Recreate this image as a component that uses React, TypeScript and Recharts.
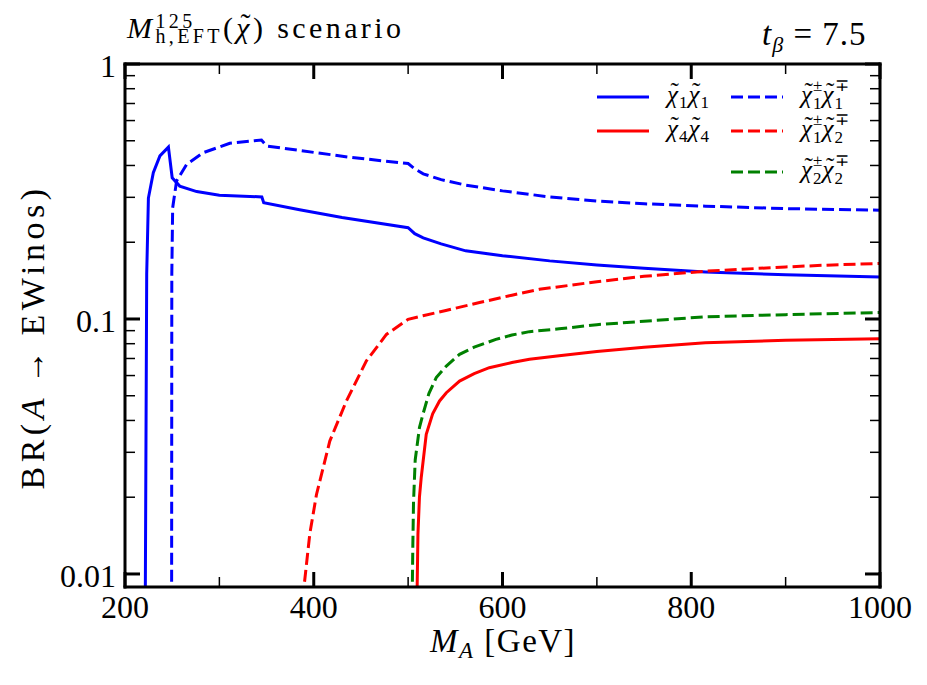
import React from "react";
import { LineChart, Line, XAxis, YAxis } from "recharts";

type Pt = { m: number; br: number };

const FONT = "Liberation Serif";
const BLUE = "#0000ff";
const RED = "#ff0000";
const GREEN = "#008000";
const DASH = "12 5";

const xTicks = [200, 300, 400, 500, 600, 700, 800, 900, 1000];
const xMajor = [200, 400, 600, 800, 1000];
const yTicks = [
  0.01, 0.02, 0.03, 0.04, 0.05, 0.06, 0.07, 0.08, 0.09,
  0.1, 0.2, 0.3, 0.4, 0.5, 0.6, 0.7, 0.8, 0.9, 1,
];
const yMajor = [0.01, 0.1, 1];
const yLabels = ["0.01", "0.1", "1"];

// BR(A -> chi1 chi1)
const chi1chi1: Pt[] = [
  { m: 221.5, br: 0.008 }, { m: 223, br: 0.15 }, { m: 224.8, br: 0.298 },
  { m: 230, br: 0.375 }, { m: 237, br: 0.436 }, { m: 246, br: 0.472 },
  { m: 250, br: 0.358 }, { m: 258, br: 0.332 }, { m: 276, br: 0.316 },
  { m: 300, br: 0.306 }, { m: 345, br: 0.301 }, { m: 347, br: 0.286 },
  { m: 385, br: 0.268 }, { m: 430, br: 0.25 }, { m: 500, br: 0.228 },
  { m: 507, br: 0.216 }, { m: 516, br: 0.208 }, { m: 535, br: 0.197 },
  { m: 561, br: 0.185 }, { m: 600, br: 0.177 }, { m: 650, br: 0.169 },
  { m: 700, br: 0.163 }, { m: 750, br: 0.158 }, { m: 815, br: 0.153 },
  { m: 900, br: 0.149 }, { m: 1000, br: 0.146 },
];

// BR(A -> chi4 chi4)
const chi4chi4: Pt[] = [
  { m: 509.4, br: 0.008 }, { m: 510.4, br: 0.0143 }, { m: 512, br: 0.02 },
  { m: 513.9, br: 0.0239 }, { m: 519.2, br: 0.0353 }, { m: 526, br: 0.0425 },
  { m: 533.3, br: 0.0477 }, { m: 540.5, br: 0.0514 }, { m: 554.5, br: 0.0571 },
  { m: 570, br: 0.061 }, { m: 586, br: 0.0644 }, { m: 610, br: 0.0675 },
  { m: 628.6, br: 0.0695 }, { m: 660, br: 0.0718 }, { m: 700, br: 0.0745 },
  { m: 750, br: 0.0775 }, { m: 815, br: 0.0807 }, { m: 900, br: 0.0825 },
  { m: 1000, br: 0.0837 },
];

// BR(A -> chi1+ chi1-)
const cha11: Pt[] = [
  { m: 249.4, br: 0.008 }, { m: 249.6, br: 0.15 }, { m: 250.5, br: 0.273 },
  { m: 254.7, br: 0.348 }, { m: 265.3, br: 0.404 }, { m: 283, br: 0.449 },
  { m: 311, br: 0.489 }, { m: 344.6, br: 0.503 }, { m: 350, br: 0.477 },
  { m: 385, br: 0.458 }, { m: 440, br: 0.43 }, { m: 500, br: 0.407 },
  { m: 507, br: 0.388 }, { m: 516, br: 0.371 }, { m: 535, br: 0.352 },
  { m: 561, br: 0.335 }, { m: 600, br: 0.318 }, { m: 650, br: 0.301 },
  { m: 700, br: 0.29 }, { m: 750, br: 0.283 }, { m: 815, br: 0.277 },
  { m: 900, br: 0.271 }, { m: 1000, br: 0.267 },
];

// BR(A -> chi1+ chi2-)
const cha12: Pt[] = [
  { m: 388.3, br: 0.008 }, { m: 395.8, br: 0.01435 }, { m: 402.9, br: 0.0205 },
  { m: 417, br: 0.0332 }, { m: 434.6, br: 0.0477 }, { m: 455.8, br: 0.0685 },
  { m: 477, br: 0.087 }, { m: 500, br: 0.0997 }, { m: 515.7, br: 0.103 },
  { m: 540, br: 0.108 }, { m: 575.7, br: 0.116 }, { m: 610, br: 0.124 },
  { m: 639, br: 0.1307 }, { m: 700, br: 0.14 }, { m: 750, br: 0.147 },
  { m: 815, br: 0.154 }, { m: 900, br: 0.16 }, { m: 950, br: 0.163 },
  { m: 1000, br: 0.165 },
];

// BR(A -> chi2+ chi2-)
const cha22: Pt[] = [
  { m: 504.3, br: 0.008 }, { m: 505, br: 0.013 }, { m: 505.7, br: 0.019 },
  { m: 507.5, br: 0.028 }, { m: 512, br: 0.0375 }, { m: 515.7, br: 0.0423 },
  { m: 522, br: 0.051 }, { m: 529.8, br: 0.0589 }, { m: 540.5, br: 0.0654 },
  { m: 554.5, br: 0.0727 }, { m: 570, br: 0.0775 }, { m: 593, br: 0.0832 },
  { m: 610, br: 0.0865 }, { m: 628.6, br: 0.0892 }, { m: 660, br: 0.0915 },
  { m: 700, br: 0.095 }, { m: 750, br: 0.098 }, { m: 815, br: 0.102 },
  { m: 900, br: 0.104 }, { m: 1000, br: 0.106 },
];

const series = [
  { key: "chi1chi1", data: chi1chi1, color: BLUE, dashed: false },
  { key: "chi4chi4", data: chi4chi4, color: RED, dashed: false },
  { key: "cha11", data: cha11, color: BLUE, dashed: true },
  { key: "cha12", data: cha12, color: RED, dashed: true },
  { key: "cha22", data: cha22, color: GREEN, dashed: true },
];

function tickStyle(major: boolean) {
  return { stroke: "#000", strokeWidth: major ? 3 : 1.5, len: major ? 15 : 10 };
}

function BottomTick(props: any) {
  const { x, y, payload } = props;
  const major = xMajor.includes(payload.value);
  const s = tickStyle(major);
  return (
    <g>
      <line x1={x} x2={x} y1={y} y2={y - s.len} stroke={s.stroke} strokeWidth={s.strokeWidth} />
      {major && (
        <text x={x} y={y + 31} textAnchor="middle" fontSize={32} fontFamily={FONT} fill="#000">
          {payload.value}
        </text>
      )}
    </g>
  );
}

function TopTick(props: any) {
  const { x, y, payload } = props;
  const s = tickStyle(xMajor.includes(payload.value));
  return <line x1={x} x2={x} y1={y} y2={y + s.len} stroke={s.stroke} strokeWidth={s.strokeWidth} />;
}

function LeftTick(props: any) {
  const { x, y, payload } = props;
  const idx = yMajor.indexOf(payload.value);
  const s = tickStyle(idx >= 0);
  return (
    <g>
      <line x1={x} x2={x + s.len} y1={y} y2={y} stroke={s.stroke} strokeWidth={s.strokeWidth} />
      {idx >= 0 && (
        <text x={x - 9} y={y + 13} textAnchor="end" fontSize={32} fontFamily={FONT} fill="#000">
          {yLabels[idx]}
        </text>
      )}
    </g>
  );
}

function RightTick(props: any) {
  const { x, y, payload } = props;
  const s = tickStyle(yMajor.includes(payload.value));
  return <line x1={x} x2={x - s.len} y1={y} y2={y} stroke={s.stroke} strokeWidth={s.strokeWidth} />;
}

function Scripts({ sup, sub, size, up, down }: { sup: string; sub: string; size: number; up: number; down: number }) {
  return (
    <span style={{ position: "relative", display: "inline-block", fontSize: size, lineHeight: 1, fontStyle: "normal" }}>
      <span style={{ position: "relative", top: down }}>{sub}</span>
      <span style={{ position: "absolute", left: 0, top: -up }}>{sup}</span>
    </span>
  );
}

// chi with a tilde set over it
function TildeChi() {
  return (
    <span style={{ position: "relative", display: "inline-block" }}>
      <i>χ</i>
      <span style={{ position: "absolute", left: "0.14em", top: "-0.12em", fontStyle: "normal" }}>˜</span>
    </span>
  );
}

function Chi({ sub, sup }: { sub: string; sup?: string }) {
  return (
    <span>
      <TildeChi />
      {sup ? (
        <Scripts sup={sup} sub={sub} size={17} up={12} down={6} />
      ) : (
        <span style={{ position: "relative", top: 5, fontSize: 17 }}>{sub}</span>
      )}
    </span>
  );
}

const axisLine = { stroke: "#000", strokeWidth: 3, strokeLinecap: "square" as const };

function text(left: number, baseline: number, size: number, extra: React.CSSProperties = {}) {
  return {
    position: "absolute" as const,
    left,
    top: baseline - 0.8375 * size,
    fontSize: size,
    lineHeight: 1,
    fontFamily: FONT,
    whiteSpace: "nowrap" as const,
    color: "#000",
    ...extra,
  };
}

function LegendRow({ left, y, color, dashed, children }: any) {
  return (
    <>
      <svg style={{ position: "absolute", left, top: y - 4 }} width={52} height={8}>
        <line x1={0} x2={52} y1={4} y2={4} stroke={color} strokeWidth={3} strokeDasharray={dashed ? DASH : undefined} />
      </svg>
      <div style={text(left + 70, y + 6, 25, { letterSpacing: 1 })}>{children}</div>
    </>
  );
}

export default function App() {
  return (
    <div style={{ position: "relative", width: 919, height: 677, fontFamily: FONT }}>
      <LineChart width={919} height={677} margin={{ top: 0, right: 0, bottom: 0, left: 0 }}>
        <XAxis
          dataKey="m"
          type="number"
          domain={[200, 1000]}
          ticks={xTicks}
          interval={0}
          height={98}
          tickSize={0}
          tickMargin={0}
          tickLine={false}
          axisLine={axisLine}
          tick={<BottomTick />}
          allowDataOverflow
        />
        <XAxis
          xAxisId="top"
          orientation="top"
          dataKey="m"
          type="number"
          domain={[200, 1000]}
          ticks={xTicks}
          interval={0}
          height={56}
          tickSize={0}
          tickMargin={0}
          tickLine={false}
          axisLine={axisLine}
          tick={<TopTick />}
          allowDataOverflow
        />
        <YAxis
          dataKey="br"
          scale="log"
          type="number"
          domain={[0.00889, 1]}
          ticks={yTicks}
          interval={0}
          width={117}
          tickSize={0}
          tickMargin={0}
          tickLine={false}
          axisLine={axisLine}
          tick={<LeftTick />}
          allowDataOverflow
        />
        <YAxis
          yAxisId="right"
          orientation="right"
          dataKey="br"
          scale="log"
          type="number"
          domain={[0.00889, 1]}
          ticks={yTicks}
          interval={0}
          width={47}
          tickSize={0}
          tickMargin={0}
          tickLine={false}
          axisLine={axisLine}
          tick={<RightTick />}
          allowDataOverflow
        />
        {series.map((s) => (
          <Line
            key={s.key}
            data={s.data}
            dataKey="br"
            type="linear"
            stroke={s.color}
            strokeWidth={3}
            strokeDasharray={s.dashed ? DASH : undefined}
            dot={false}
            activeDot={false}
            isAnimationActive={false}
          />
        ))}
      </LineChart>

      {/* title */}
      <div style={text(119, 30, 30, { letterSpacing: 3.4 })}>
        <i>M</i>
        <Scripts sup="125" sub={"h,EFT"} size={20} up={9.5} down={5.5} />
        (<TildeChi />) scenario
      </div>
      <div style={text(754, 37.5, 33, { letterSpacing: 1 })}>
        <i>t</i>
        <span style={{ position: "relative", top: 7, fontSize: 22 }}>
          <i>β</i>
        </span>
        {" = 7.5"}
      </div>

      {/* axis labels */}
      <div style={text(422, 645, 33, { letterSpacing: 1.5 })}>
        <i>M</i>
        <span style={{ position: "relative", top: 6, fontSize: 23 }}>
          <i>A</i>
        </span>
        {" [GeV]"}
      </div>
      <div
        style={{
          position: "absolute",
          left: 25,
          top: 329,
          transform: "translate(-50%, -50%) rotate(-90deg)",
          fontSize: 34,
          lineHeight: 1,
          fontFamily: FONT,
          whiteSpace: "nowrap",
          letterSpacing: 4.5,
        }}
      >
        BR(<i>A</i>
        <span style={{ margin: "0 10px" }}>→</span>EWinos)
      </div>

      {/* legend */}
      <LegendRow left={589} y={88.7} color={BLUE} dashed={false}>
        <Chi sub="1" />
        <Chi sub="1" />
      </LegendRow>
      <LegendRow left={589} y={122.7} color={RED} dashed={false}>
        <Chi sub="4" />
        <Chi sub="4" />
      </LegendRow>
      <LegendRow left={723} y={88.7} color={BLUE} dashed>
        <Chi sub="1" sup="±" />
        <Chi sub="1" sup="∓" />
      </LegendRow>
      <LegendRow left={723} y={122.7} color={RED} dashed>
        <Chi sub="1" sup="±" />
        <Chi sub="2" sup="∓" />
      </LegendRow>
      <LegendRow left={723} y={163.7} color={GREEN} dashed>
        <Chi sub="2" sup="±" />
        <Chi sub="2" sup="∓" />
      </LegendRow>
    </div>
  );
}
